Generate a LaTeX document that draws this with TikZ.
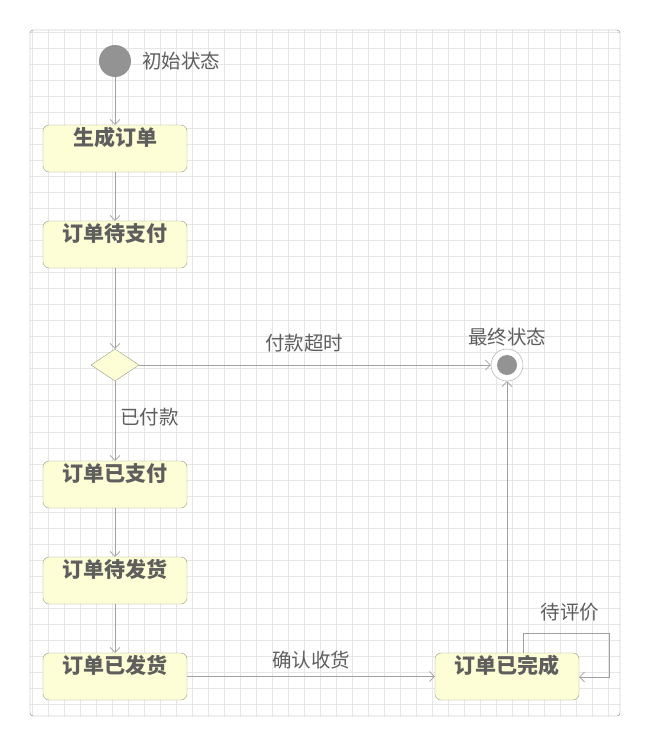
\documentclass[tikz,border=0pt]{standalone}
\usepackage{fontspec}
\setmainfont{Noto Sans CJK SC}
\usetikzlibrary{arrows.meta,positioning,shapes.geometric}
\definecolor{boxfill}{HTML}{FEFED6}
\definecolor{boxline}{HTML}{9A9A8A}
\definecolor{txt}{HTML}{5E5E5E}
\definecolor{gridc}{HTML}{E6E6E6}
\definecolor{edgec}{HTML}{A0A0A0}
\begin{document}
\begin{tikzpicture}[
    x=1pt, y=-1pt,
    font=\fontsize{19.5}{22}\selectfont\color{txt},
    statebox/.style={draw=boxline, fill=boxfill, rounded corners=6pt, minimum width=144pt,
        minimum height=47pt, text height=14pt, text depth=20pt, inner sep=3pt,
        font=\fontsize{21}{24}\selectfont\bfseries\color{txt}},
    edge/.style={draw=edgec, -{Straight Barb[length=5pt,width=10pt]}, semithick},
    lbl/.style={inner sep=1pt}]
\useasboundingbox (0,0) rectangle (650,747);
% background grid
\draw[gridc, step=16pt, thin] (30,30) grid (620,716);
\draw[gray, rounded corners=3pt] (30,30) rectangle (620,716);
% states
\node[circle, fill=gray!85, minimum size=32pt, inner sep=0] (start) at (115,61) {};
\node[right=10pt of start, lbl] {初始状态};
\node[statebox] (create) at (115,148.5) {生成订单};
\node[statebox] (unpaid) at (115,244.5) {订单待支付};
\node[diamond, draw=boxline, fill=boxfill, minimum width=48pt, minimum height=32pt,
      inner sep=0, aspect=1.5] (choice) at (115,365) {};
\node[circle, draw=edgec, fill=white, minimum size=32pt, inner sep=0] (final) at (507,365) {};
\fill[gray!85] (final) circle (10pt);
\node[above=2pt of final, lbl] {最终状态};
\node[statebox] (paid) at (115,484.5) {订单已支付};
\node[statebox] (toship) at (115,580.5) {订单待发货};
\node[statebox] (shipped) at (115,676.5) {订单已发货};
\node[statebox] (done) at (507,676.5) {订单已完成};
% transitions
\draw[edge] (start) -- (create);
\draw[edge] (create) -- (unpaid);
\draw[edge] (unpaid) -- (choice);
\draw[edge] (choice) -- node[above=12pt, pos=0.47, lbl] {付款超时} (final);
\draw[edge] (choice) -- node[right=4pt, pos=0.45, lbl] {已付款} (paid);
\draw[edge] (paid) -- (toship);
\draw[edge] (toship) -- (shipped);
\draw[edge] (shipped) -- node[above=6pt, lbl] {确认收货} (done);
\draw[edge] (done) -- (final);
\draw[edge] ([xshift=16pt]done.north) |- (609,633) |- (done.east |- 0,677);
\node[lbl] at (570,612) {待评价};
\end{tikzpicture}
\end{document}
